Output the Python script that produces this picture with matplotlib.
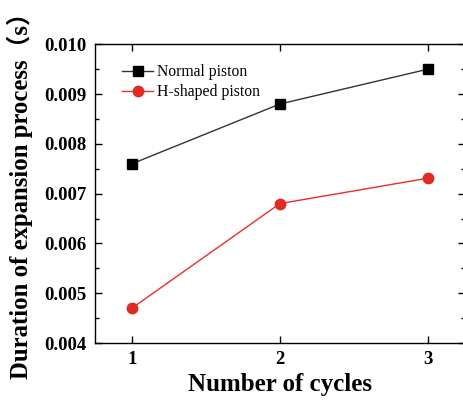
import matplotlib.pyplot as plt
from matplotlib.ticker import MultipleLocator

# cycle number vs expansion duration for both piston shapes
cycles = [1, 2, 3]
normal_piston = [0.0076, 0.0088, 0.0095]
h_shaped_piston = [0.0047, 0.0068, 0.00731]
y_ticks = [0.004, 0.005, 0.006, 0.007, 0.008, 0.009, 0.010]

plt.rcParams['font.family'] = ['Liberation Serif', 'Noto Sans CJK SC']

fig = plt.figure(figsize=(4.63, 4.01), dpi=100)
ax = fig.add_axes([0.205, 0.1446, 0.799, 0.745])

ax.plot(cycles, normal_piston, color='#333333', lw=1.0, marker='s', ms=7,
        mfc='black', mec='black', label='Normal piston')
ax.plot(cycles, h_shaped_piston, color='#e8302a', lw=1.0, marker='o', ms=7.5,
        mfc='#e02a22', mec='#e02a22', label='H-shaped piston')

ax.set_xlim(0.75, 3.25)
ax.set_ylim(0.004, 0.010)
ax.set_xticks(cycles)
ax.set_yticks(y_ticks)
ax.set_yticklabels([f'{v:.3f}' for v in y_ticks])
ax.yaxis.set_minor_locator(MultipleLocator(0.0005))

ax.tick_params(which='both', direction='in', top=True, right=True,
               labelsize=13.5, width=1.0)
ax.tick_params(which='major', length=5, pad=6)
ax.tick_params(which='minor', length=3)
for lab in ax.get_xticklabels() + ax.get_yticklabels():
    lab.set_fontweight('bold')
for s in ax.spines.values():
    s.set_linewidth(1.0)

ax.set_xlabel('Number of cycles', fontsize=18, fontweight='bold', labelpad=3)
ax.set_ylabel('Duration of expansion process（s）', fontsize=17.8,
              fontweight='bold')
ax.yaxis.set_label_coords(-0.168, 0.515)

ax.legend(loc='upper left', bbox_to_anchor=(0.035, 0.98), frameon=False,
          fontsize=11.3, handlelength=2.0, handletextpad=0.25, labelspacing=0.25)

fig.savefig('out.png', dpi=100)
